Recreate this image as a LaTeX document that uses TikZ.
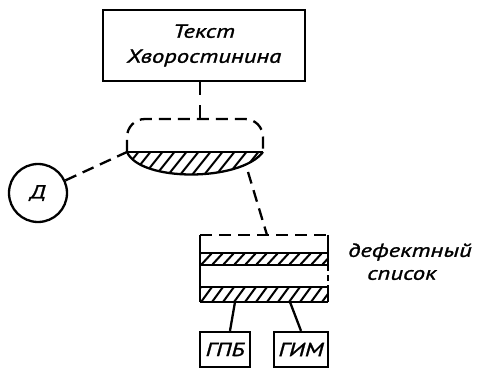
\documentclass[tikz,border=0pt]{standalone}
\usepackage{fontspec}
\newfontfamily\draftfont[FakeStretch=1.3, FakeBold=1.3]{PT Sans}
\usetikzlibrary{positioning}
\tikzset{solidline/.style={line width=2.3pt},
  dashline/.style={line width=2.3pt, dash pattern=on 12pt off 7pt},
  hatchline/.style={line width=2pt},
  drafttext/.style={font=\draftfont\itshape\fontsize{19}{25}\selectfont,
    inner sep=0pt},
  framebox/.style={draw, solidline, drafttext}}

\begin{document}
\begin{tikzpicture}[x=1pt, y=-1pt]
\useasboundingbox (0,0) rectangle (483,369);
\node[framebox, minimum width=202pt, minimum height=71pt, align=center]
  (text) at (204,45.5) {Текст\\Хворостинина};
% the oval
\coordinate (ovtop) at (200,119);
\coordinate (ovleft) at (127,152);
\coordinate (ovright) at (248,172);
\begin{scope}
  \clip (127,152) .. controls (140,182) and (240,182) .. (263,152) -- cycle;
  \foreach \x in {100,112,...,270}
    \draw[hatchline] (\x,185) -- ++(28,-35);
\end{scope}
\draw[dashline, rounded corners=18pt] (127,152) -- (127,119) -- (263,119)
  -- (263,152);
\draw[solidline] (127,152) -- (263,152);
\draw[solidline] (127,152) .. controls (140,182) and (240,182) .. (263,152);
\draw[dashline, dash pattern=on 13pt off 10pt] (text.south -| ovtop) -- (ovtop);
\node[circle, draw, solidline, drafttext, minimum size=58pt] (d) at (38,193) {Д};
\draw[dashline] (d) -- (ovleft);
% the list
\coordinate (lsttop) at (267,235);
\draw[dashline] (ovright) -- (lsttop);
\draw[dashline] (200,235) -- (328,235);
\foreach \ya/\yb in {253/265, 287/302} {
  \begin{scope}
    \clip (200,\ya) rectangle (328,\yb);
    \foreach \x in {190,201,...,330}
      \draw[hatchline] (\x,\yb) -- ({\x+11},\ya);
  \end{scope}
  \draw[solidline] (200,\ya) -- (328,\ya);
  \draw[solidline] (200,\yb) -- (328,\yb);
}
\draw[solidline] (200,235) -- (200,302);
\draw[solidline] (328,235) -- (328,265);
\draw[solidline] (328,287) -- (328,302);
\draw[solidline, dash pattern=on 6pt off 4pt] (328,265) -- (328,287);
\node[drafttext, anchor=west] (defect) at (348,252) {дефектный};
\node[drafttext, anchor=west] (spisok) at (367,275) {список};
\node[framebox, minimum width=50pt, minimum height=35pt] (gpb) at (225,349.5) {ГПБ};
\node[framebox, minimum width=54pt, minimum height=35pt] (gim) at (301,349.5) {ГИМ};
\coordinate (l1) at (235,302);
\coordinate (l2) at (290,302);
\draw[solidline] (l1) -- ([xshift=5pt]gpb.north);
\draw[solidline] (l2) -- (gim.north);
\end{tikzpicture}
\end{document}
